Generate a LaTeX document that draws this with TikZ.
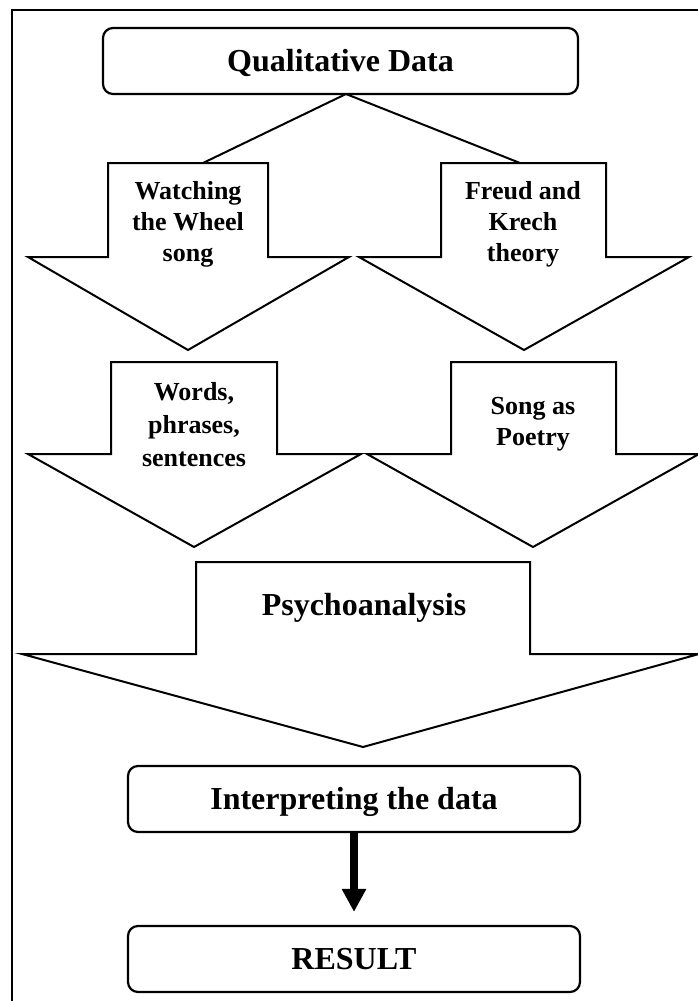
\documentclass[tikz,border=0pt]{standalone}
\usepackage{fontspec}
\setmainfont{Liberation Serif}
\usetikzlibrary{arrows.meta}
\tikzset{
  headbox/.style={draw, line width=1.1pt, rounded corners=5pt, inner sep=0pt,
    minimum width=226pt, minimum height=33pt,
    font=\fontsize{16}{19}\selectfont\bfseries, text height=10.5pt, text depth=0pt},
  blockarrow/.style={draw, line width=1pt, line join=miter},
  arrowtext/.style={font=\fontsize{13}{15.5}\selectfont\bfseries, align=center, inner sep=0pt},
  bigtext/.style={font=\fontsize{16}{19}\selectfont\bfseries, inner sep=0pt, text height=10.5pt, text depth=0pt},
  link/.style={draw, line width=1pt},
  thickarrow/.style={-{Triangle[width=11.5pt,length=11.5pt]}, line width=4pt}
}
\begin{document}
\begin{tikzpicture}[x=0.5pt,y=-0.5pt]
  \useasboundingbox (0,0) rectangle (697,1001);
  \draw[line width=1pt] (12,9.5) rectangle (720,1020);

  \node[headbox, minimum width=237.5pt] (qual) at (340.5,61) {Qualitative Data};

  \draw[blockarrow] (108,163) -- (268,163) -- (268,257) -- (349,257) -- (188,350) -- (28,257) -- (108,257) -- cycle;
  \draw[blockarrow] (441,163) -- (606,163) -- (606,257) -- (689,257) -- (524,350) -- (359,257) -- (441,257) -- cycle;
  \draw[blockarrow] (111,362) -- (277,362) -- (277,454) -- (361,454) -- (194,547) -- (28,454) -- (111,454) -- cycle;
  \draw[blockarrow] (451,362) -- (616,362) -- (616,454) -- (699,454) -- (533,547) -- (367,454) -- (451,454) -- cycle;
  \draw[blockarrow] (196,562) -- (530,562) -- (530,654) -- (699,654) -- (363,747) -- (22,654) -- (196,654) -- cycle;

  \coordinate (qual-out) at (346,94);
  \coordinate (watch-top) at (203,163);
  \coordinate (freud-top) at (520,163);
  \draw[link] (qual-out) -- (watch-top);
  \draw[link] (qual-out) -- (freud-top);

  \node[arrowtext] (watch) at (188,224) {Watching\\the Wheel\\song};
  \node[arrowtext] (freud) at (523,224) {Freud and\\Krech\\theory};
  \node[arrowtext, font=\fontsize{13}{16.5}\selectfont\bfseries] (words) at (194,425) {Words,\\phrases,\\sentences};
  \node[arrowtext] (song) at (533,424.5) {Song as\\Poetry};
  \node[bigtext] (psycho) at (364,605) {Psychoanalysis};

  \node[headbox] (interp) at (354,799) {Interpreting the data};
  \node[headbox] (result) at (354,959) {RESULT};
  \draw[thickarrow] (interp.south) -- ([yshift=6.5pt]result.north);
\end{tikzpicture}
\end{document}
